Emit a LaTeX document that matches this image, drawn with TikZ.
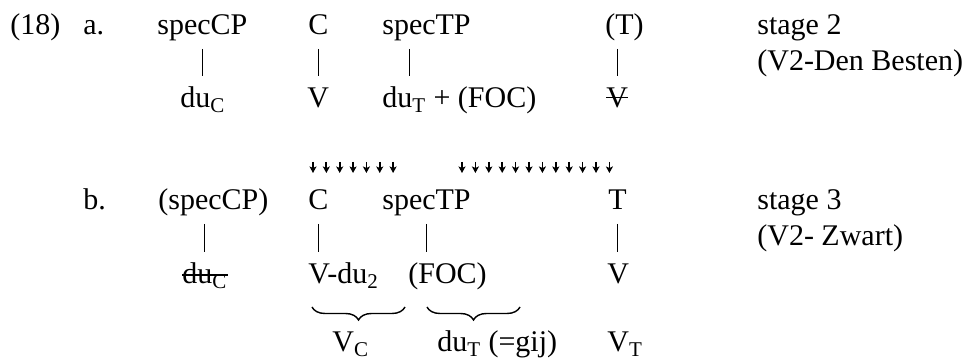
\documentclass[tikz,border=0pt]{standalone}
\usepackage{fontspec}
\setmainfont{Liberation Serif}
\usepackage{tikz}
\usetikzlibrary{arrows.meta,decorations.pathreplacing}
\tikzset{
  node-word/.style={anchor=base west,inner sep=0pt,
    text height=0.414cm,text depth=0.132cm},
  line-bar/.style={line width=0.6pt,shorten <=0.14cm,shorten >=0.21cm},
  line-strike/.style={line width=0.7pt},
  brace-under/.style={decorate,line width=0.8pt,
    decoration={brace,mirror,amplitude=0.26cm}},
  % small movement arrows above stage 3
  arrow-move/.style={-{Stealth[length=1.3mm,width=1.4mm,inset=0.3mm]},line width=1pt},
}

\begin{document}
\begin{tikzpicture}[font=\fontsize{17.07}{20.5}\selectfont]
  \useasboundingbox (0,0) rectangle (19.52,7.2);
  % (18a) stage 2
  \node[node-word] (ex18) at (0.2,6.5) {(18)};
  \node[node-word] (lblA) at (1.66,6.5) {a.};
  \node[node-word] (specCPa) at (3.14,6.5) {specCP};
  \node[node-word] (Ca) at (6.16,6.5) {C};
  \node[node-word] (specTPa) at (7.64,6.5) {specTP};
  \node[node-word] (Ta) at (12.1,6.5) {(T)};
  \node[node-word] (stageA) at (15.14,6.5) {stage 2};
  \node[node-word] (besten) at (15.14,5.78) {(V2-Den Besten)};
  \node[node-word] (duCa) at (3.6,5.04) {du\textsubscript{C}};
  \node[node-word] (Va) at (6.14,5.04) {V};
  \node[node-word] (duTa) at (7.64,5.04) {du\textsubscript{T} + (FOC)};
  \node[node-word] (Vx) at (12.12,5.04) {V};
  \draw[line-strike] ([yshift=0.21cm]Vx.base west) -- ([yshift=0.21cm]Vx.base east);
  \draw[line-bar] (specCPa.south) -- (specCPa.south |- duCa.north);
  \draw[line-bar] (Ca.south) -- (Ca.south |- Va.north);
  \draw[line-bar] ([xshift=-0.34cm]specTPa.south) -- ([xshift=-0.34cm]specTPa.south |- duTa.north);
  \draw[line-bar] (Vx.north |- Ta.south) -- (Vx.north);

  % (18b) stage 3
  \foreach \i in {0,...,6}
    \draw[arrow-move] (6.26+0.267*\i,3.96) -- ++(0,-0.22);
  \foreach \i in {0,...,11}
    \draw[arrow-move] (9.24+0.268*\i,3.96) -- ++(0,-0.22);
  \node[node-word] (lblB) at (1.66,3.0) {b.};
  \node[node-word] (specCPb) at (3.16,3.0) {(specCP)};
  \node[node-word] (Cb) at (6.16,3.0) {C};
  \node[node-word] (specTPb) at (7.64,3.0) {specTP};
  \node[node-word] (Tb) at (12.16,3.0) {T};
  \node[node-word] (stageB) at (15.14,3.0) {stage 3};
  \node[node-word] (zwart) at (15.14,2.28) {(V2- Zwart)};
  \node[node-word] (duCb) at (3.64,1.52) {du\textsubscript{C}};
  \draw[line-strike] ([yshift=0.18cm]duCb.base west) -- ([yshift=0.18cm]duCb.base east);
  \node[node-word] (VduB) at (6.16,1.52) {V-du\textsubscript{2}};
  \node[node-word] (focB) at (8.16,1.52) {(FOC)};
  \node[node-word] (Vb) at (12.14,1.52) {V};
  \draw[line-bar] (duCb.north |- specCPb.south) -- (duCb.north);
  \draw[line-bar] (Cb.south) -- (Cb.south |- VduB.north);
  \draw[line-bar] (specTPb.south) -- (specTPb.south |- focB.north);
  \draw[line-bar] (Tb.south) -- (Tb.south |- Vb.north);

  \coordinate (braceAl) at (6.24,1.06);
  \coordinate (braceAr) at (8.1,1.06);
  \coordinate (braceBl) at (8.54,1.06);
  \coordinate (braceBr) at (10.4,1.06);
  \draw[brace-under] (braceAl) -- (braceAr);
  \draw[brace-under] (braceBl) -- (braceBr);
  \node[node-word] (VC) at (6.64,0.16) {V\textsubscript{C}};
  \node[node-word] (duTb) at (8.74,0.16) {du\textsubscript{T} (=gij)};
  \node[node-word] (VT) at (12.14,0.16) {V\textsubscript{T}};
\end{tikzpicture}
\end{document}
